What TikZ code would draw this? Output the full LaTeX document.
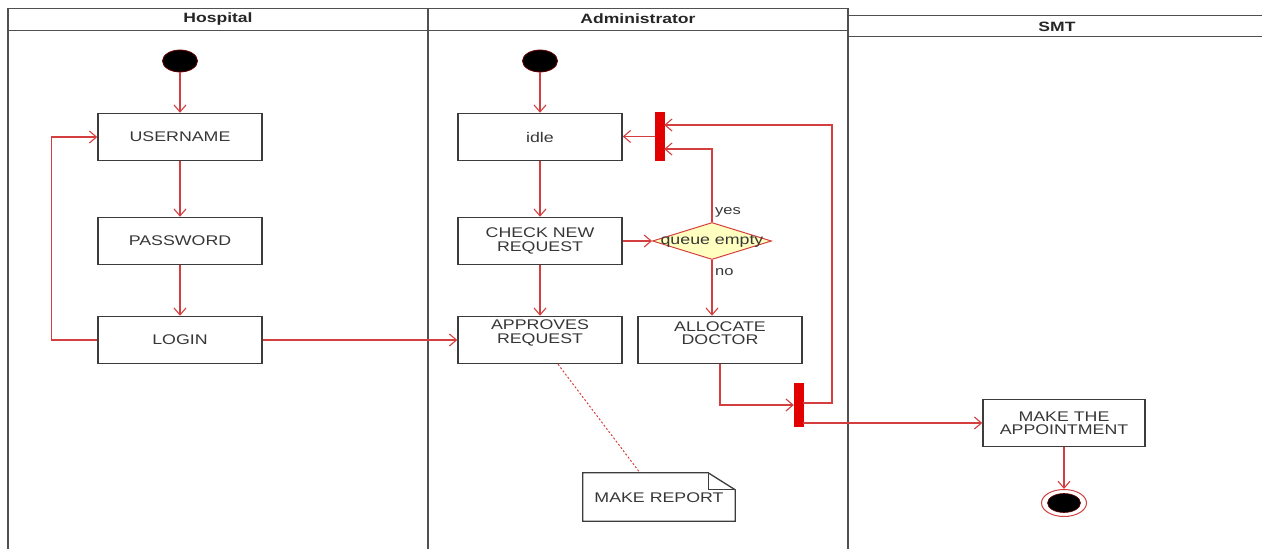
\documentclass[tikz,border=0pt]{standalone}
\usepackage{fontspec}
\setmainfont{Liberation Sans}
\newfontfamily\labfont[FakeStretch=1.27]{Liberation Sans}
\newfontfamily\hdrfont[FakeStretch=1.3]{Liberation Sans}
\usetikzlibrary{shapes.geometric,arrows.meta,calc}
\definecolor{flowred}{RGB}{212,62,62}
\definecolor{barred}{RGB}{226,0,0}
\definecolor{boxgray}{RGB}{60,60,60}
\definecolor{txtgray}{RGB}{55,55,55}
\definecolor{lanegray}{RGB}{80,80,80}
\definecolor{decfill}{RGB}{255,255,192}
\tikzset{
  lane/.style={draw=lanegray, line width=1.8pt},
  laneline/.style={draw=lanegray, line width=1pt},
  hdr/.style={font=\hdrfont\bfseries\fontsize{13.5}{14}\selectfont, text=black!85, inner sep=0},
  actbox/.style={draw=boxgray, line width=1.5pt, fill=white, rectangle, minimum width=164pt, minimum height=47pt, inner sep=0, align=center, font=\labfont\fontsize{14}{13.5}\selectfont, text=txtgray},
  lbl/.style={inner sep=0, align=center, font=\labfont\fontsize{14}{13.5}\selectfont, text=txtgray},
  small/.style={inner sep=0, font=\labfont\fontsize{13}{13}\selectfont, text=txtgray},
  flow/.style={draw=flowred, line width=1.1pt, -{Straight Barb[length=7pt,width=12pt,line width=1.1pt]}},
  plain/.style={draw=flowred, line width=1.1pt},
  initnode/.style={ellipse, fill=black, draw=black!60!red, line width=0.8pt, minimum width=35pt, minimum height=22pt, inner sep=0},
  bar/.style={rectangle, fill=barred, draw=barred, inner sep=0, minimum width=9pt},
}
\begin{document}
\begin{tikzpicture}[x=1pt,y=-1pt]
\useasboundingbox (0,0) rectangle (1262,549);
% lanes
\draw[laneline] (8,8) -- (848,8);
\draw[laneline] (8,30) -- (848,30);
\draw[lane] (8,8) -- (8,549);
\draw[lane] (428,8) -- (428,549);
\draw[lane] (848,8) -- (848,549);
\draw[laneline] (848,15) -- (1262,15);
\draw[laneline] (848,36) -- (1262,36);
\node[hdr] (hhosp) at (218,19) {Hospital};
\node[hdr] (hadm) at (638,19) {Administrator};
\node[hdr] (hsmt) at (1057,27) {SMT};
% hospital
\node[initnode] (hinit) at (180,61) {};
\node[actbox] (user) at (180,137) {USERNAME};
\node[actbox] (pass) at (180,241) {PASSWORD};
\node[actbox] (login) at (180,340) {LOGIN};
% administrator
\node[initnode] (ainit) at (540,61) {};
\node[actbox] (idle) at (540,137) {idle};
\node[actbox] (check) at (540,241) {CHECK NEW\\REQUEST};
\node[actbox] (approve) at (540,340) {};
\node[lbl] (approvet) at (540,333) {APPROVES\\REQUEST};
\node[actbox] (alloc) at (720,340) {};
\node[lbl] (alloct) at (720,333) {ALLOCATE\\DOCTOR};
\node[diamond, draw=flowred, fill=decfill, line width=1pt, minimum width=119pt, minimum height=37pt, inner sep=0, aspect=3.2] (dec) at (712,241) {};
\node[lbl] (dect) at (712,241) {queue empty};
\node[small, anchor=west] (yes) at (715,212) {yes};
\node[small, anchor=west] (no) at (715,272) {no};
\node[bar, minimum height=48pt] (bar1) at (659.5,136.5) {};
\node[bar, minimum height=43pt] (bar2) at (798.5,404.5) {};
% note
\node[inner sep=0, minimum width=152pt, minimum height=48pt] (note) at (659,497) {};
\draw[draw=boxgray, line width=1.3pt, fill=white] (note.north west) -- ($(note.north east)+(-27,0)$) -- ($(note.north east)+(0,17)$) -- (note.south east) -- (note.south west) -- cycle;
\draw[draw=boxgray, line width=1pt] ($(note.north east)+(-27,0)$) -- ($(note.north east)+(-27,17)$) -- ($(note.north east)+(0,17)$);
\node[lbl] (notet) at (659,498) {MAKE REPORT};
% SMT
\node[actbox, minimum width=162pt] (appt) at (1064,423) {MAKE THE\\APPOINTMENT};
\node[ellipse, draw=flowred, fill=white, line width=1pt, minimum width=45pt, minimum height=27pt, inner sep=0] (final) at (1064,503) {};
\node[ellipse, fill=black, draw=black!60!red, line width=0.6pt, minimum width=33pt, minimum height=19pt, inner sep=0] (finalin) at (1064,503) {};
% connectors
\draw[flow] (hinit) -- (user);
\draw[flow] (user) -- (pass);
\draw[flow] (pass) -- (login);
\draw[flow] (login.west) -- ++(-46,0) |- (user.west);
\draw[flow] (login.east) -- (approve.west);
\draw[flow] (ainit) -- (idle);
\draw[flow] (idle) -- (check);
\draw[flow] (check) -- (approve);
\draw[flow] (check.east) -- (dec.west);
\draw[flow] (dec.south) -- (dec.south |- alloc.north);
\draw[flow] (dec.north) |- ($(bar1.east)+(0,12.5)$);
\draw[flow] (bar1.west) -- (bar1.west -| idle.east);
\coordinate (rt) at (832,403);
\draw[flow] (bar2.east |- rt) -- (rt) |- ($(bar1.east)+(0,-11.5)$);
\draw[flow] (alloc.south) |- ($(bar2.west)+(0,0.5)$);
\draw[flow] (bar2.east |- appt.west) -- (appt.west);
\draw[flow] (appt.south) -- (final.north);
\draw[draw=flowred, line width=1pt, dash pattern=on 2pt off 2pt] ($(approve.south)+(18,0)$) -- ($(note.north)+(-19,0)$);
\end{tikzpicture}
\end{document}
